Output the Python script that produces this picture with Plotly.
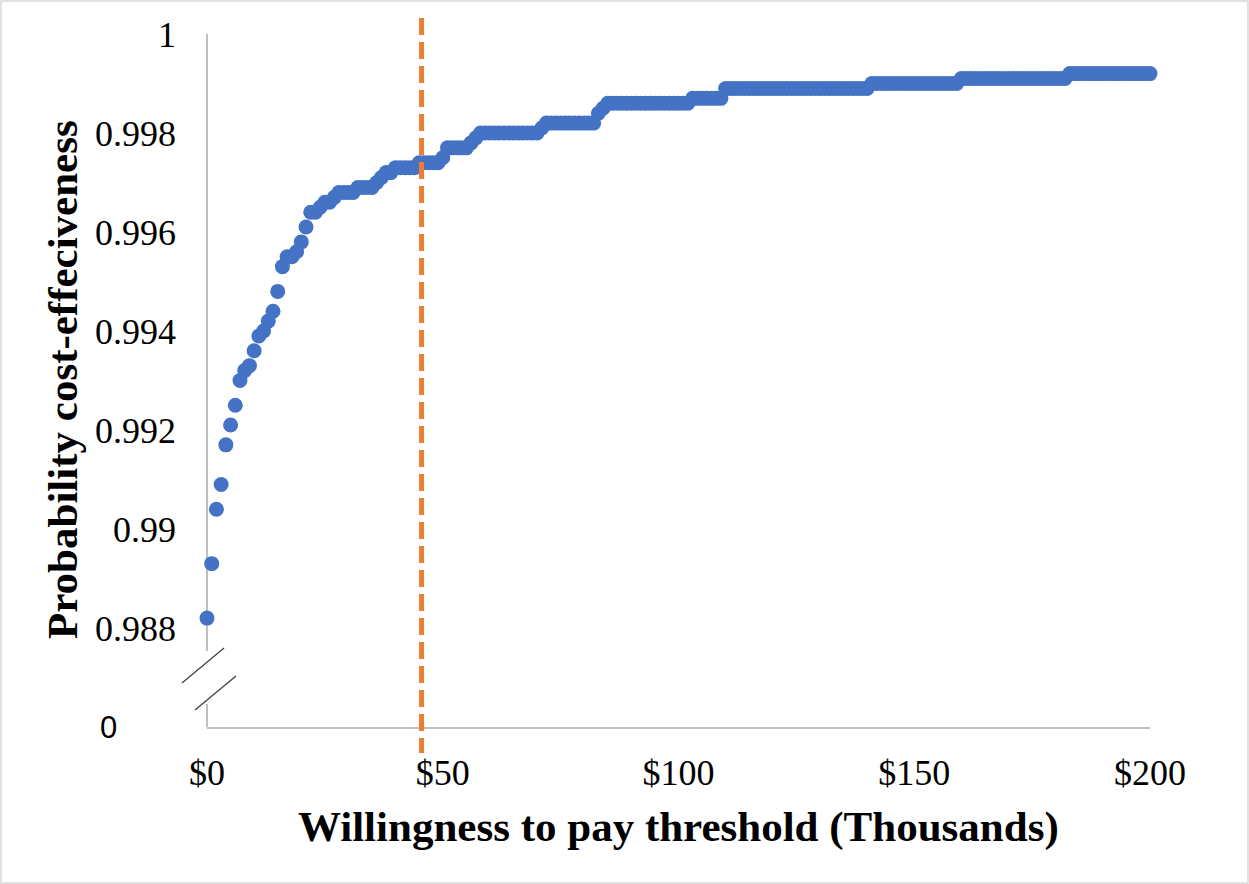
import plotly.graph_objects as go

# ---------------- data ----------------
wtp_thousands = list(range(0, 201))  # willingness-to-pay threshold, $ thousands

prob_ce = [
    0.9882, 0.9893, 0.9904, 0.9909, 0.9917, 0.9921, 0.9925, 0.9930, 0.9932, 0.9933,  # 0-9
    0.9936, 0.9939, 0.9940, 0.9942, 0.9944, 0.9948, 0.9953, 0.9955, 0.9955, 0.9956,  # 10-19
    0.9958, 0.9961, 0.9964, 0.9964, 0.9965, 0.9966, 0.9966, 0.9967, 0.9968, 0.9968,  # 20-29
    0.9968, 0.9968, 0.9969, 0.9969, 0.9969, 0.9969, 0.9970, 0.9971, 0.9972, 0.9972,  # 30-39
    0.9973, 0.9973, 0.9973, 0.9973, 0.9973, 0.9974, 0.9974, 0.9974, 0.9974, 0.9974,  # 40-49
    0.9975, 0.9977, 0.9977, 0.9977, 0.9977, 0.9977, 0.9978, 0.9979, 0.9980, 0.9980,  # 50-59
    0.9980, 0.9980, 0.9980, 0.9980, 0.9980, 0.9980, 0.9980, 0.9980, 0.9980, 0.9980,  # 60-69
    0.9980, 0.9981, 0.9982, 0.9982, 0.9982, 0.9982, 0.9982, 0.9982, 0.9982, 0.9982,  # 70-79
    0.9982, 0.9982, 0.9982, 0.9984, 0.9985, 0.9986, 0.9986, 0.9986, 0.9986, 0.9986,  # 80-89
    0.9986, 0.9986, 0.9986, 0.9986, 0.9986, 0.9986, 0.9986, 0.9986, 0.9986, 0.9986,  # 90-99
    0.9986, 0.9986, 0.9986, 0.9987, 0.9987, 0.9987, 0.9987, 0.9987, 0.9987, 0.9987,  # 100-109
    0.9989, 0.9989, 0.9989, 0.9989, 0.9989, 0.9989, 0.9989, 0.9989, 0.9989, 0.9989,  # 110-119
    0.9989, 0.9989, 0.9989, 0.9989, 0.9989, 0.9989, 0.9989, 0.9989, 0.9989, 0.9989,  # 120-129
    0.9989, 0.9989, 0.9989, 0.9989, 0.9989, 0.9989, 0.9989, 0.9989, 0.9989, 0.9989,  # 130-139
    0.9989, 0.9990, 0.9990, 0.9990, 0.9990, 0.9990, 0.9990, 0.9990, 0.9990, 0.9990,  # 140-149
    0.9990, 0.9990, 0.9990, 0.9990, 0.9990, 0.9990, 0.9990, 0.9990, 0.9990, 0.9990,  # 150-159
    0.9991, 0.9991, 0.9991, 0.9991, 0.9991, 0.9991, 0.9991, 0.9991, 0.9991, 0.9991,  # 160-169
    0.9991, 0.9991, 0.9991, 0.9991, 0.9991, 0.9991, 0.9991, 0.9991, 0.9991, 0.9991,  # 170-179
    0.9991, 0.9991, 0.9991, 0.9992, 0.9992, 0.9992, 0.9992, 0.9992, 0.9992, 0.9992,  # 180-189
    0.9992, 0.9992, 0.9992, 0.9992, 0.9992, 0.9992, 0.9992, 0.9992, 0.9992, 0.9992,  # 190-199
    0.9992,                                                                          # 200
]

threshold = 45.5  # vertical dashed reference line, $ thousands

x_tickvals = [0, 50, 100, 150, 200]
x_ticktext = ["$0", "$50", "$100", "$150", "$200"]
y_tickvals = [0.988, 0.990, 0.992, 0.994, 0.996, 0.998, 1.0]
y_ticktext = ["0.988", "0.99", "0.992", "0.994", "0.996", "0.998", "1"]
y_break_label = "0"
y_axis_bottom = 0.986

x_title = "Willingness to pay threshold (Thousands)"
y_title = "Probability cost-effeciveness"

# ---------------- layout geometry ----------------
W, H = 1249, 884
L, R, T, B = 207, 99, 34, 157
PW, PH = W - L - R, H - T - B


def px(xp):
    return (xp - L) / PW


def py(yp):
    return (H - B - yp) / PH


SERIF = "Liberation Serif, Times New Roman, serif"
AXIS_GREY = "#BFBFBF"

fig = go.Figure()
fig.add_trace(go.Scatter(
    x=wtp_thousands, y=prob_ce, mode="markers",
    marker=dict(color="#4472C4", size=15, line=dict(width=0)),
    cliponaxis=False, showlegend=False, hoverinfo="skip",
))

shapes = []
# y axis line with a gap for the break
shapes.append(dict(type="line", xref="paper", yref="paper", x0=0, x1=0,
                   y0=1, y1=py(651), line=dict(color=AXIS_GREY, width=2), layer="below"))
shapes.append(dict(type="line", xref="paper", yref="paper", x0=0, x1=0,
                   y0=py(704), y1=0, line=dict(color=AXIS_GREY, width=2), layer="below"))
# break marks
shapes.append(dict(type="line", xref="paper", yref="paper", x0=px(182), y0=py(683),
                   x1=px(224), y1=py(648), line=dict(color="#404040", width=1.3)))
shapes.append(dict(type="line", xref="paper", yref="paper", x0=px(195), y0=py(710),
                   x1=px(236), y1=py(676), line=dict(color="#404040", width=1.3)))
# threshold line
shapes.append(dict(type="line", xref="paper", yref="paper",
                   x0=threshold / x_tickvals[-1], x1=threshold / x_tickvals[-1],
                   y0=py(18), y1=py(753),
                   line=dict(color="#ED7D31", width=5, dash="17px,7px")))
# chart border
shapes.append(dict(type="rect", xref="paper", yref="paper",
                   x0=px(1), x1=px(W - 1), y0=py(1), y1=py(H - 1),
                   line=dict(color="#D9D9D9", width=1.5), fillcolor="rgba(0,0,0,0)"))

annotations = [
    dict(text=y_break_label, xref="paper", yref="y", x=px(108), y=y_axis_bottom,
         xanchor="center", yanchor="middle", showarrow=False,
         font=dict(family="Liberation Sans, Arial, sans-serif", size=31, color="#000000")),
    dict(text="<b>" + x_title + "</b>", xref="paper", yref="paper", x=0.5, y=py(827),
         xanchor="center", yanchor="middle", showarrow=False,
         font=dict(family=SERIF, size=43, color="#000000")),
    dict(text="<b>" + y_title + "</b>", xref="paper", yref="paper", x=px(62), y=py(380),
         xanchor="center", yanchor="middle", showarrow=False, textangle=-90,
         font=dict(family=SERIF, size=43, color="#000000")),
]

fig.update_layout(
    width=W, height=H,
    margin=dict(l=L, r=R, t=T, b=B, pad=0),
    paper_bgcolor="white", plot_bgcolor="white",
    shapes=shapes, annotations=annotations,
    xaxis=dict(range=[0, 200], tickvals=x_tickvals, ticktext=x_ticktext,
               showgrid=False, zeroline=False, showline=True, linecolor=AXIS_GREY,
               linewidth=2, ticks="", ticklabelstandoff=13,
               tickfont=dict(family=SERIF, size=36, color="#000000")),
    yaxis=dict(range=[y_axis_bottom, 1.0], tickvals=y_tickvals, ticktext=y_ticktext,
               showgrid=False, zeroline=False, showline=False, ticks="",
               ticklabelstandoff=30,
               tickfont=dict(family=SERIF, size=36, color="#000000")),
)

fig.write_html("out.html",
               config={"displayModeBar": False},
               post_script="document.body.style.margin='0px';"
                           "document.body.style.overflow='hidden';")
